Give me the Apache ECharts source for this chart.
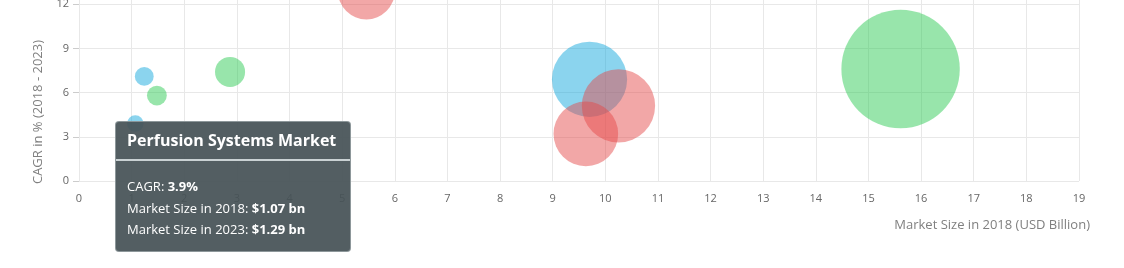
<!DOCTYPE html>
<html>
<head>
<meta charset="utf-8">
<script src="https://cdn.jsdelivr.net/npm/echarts@6/dist/echarts.min.js"></script>
<style>
html,body{margin:0;padding:0;background:#fff;}
#chart{width:1124px;height:268px;}
</style>
</head>
<body>
<div id="chart"></div>
<script>
// Data
const marketNames = ['Market A', 'Market B', 'Perfusion Systems Market', 'Market D', 'Market E', 'Market F', 'Market G', 'Market H', 'Market I'];
const marketSize2018 = [1.24, 1.48, 1.07, 2.87, 5.46, 9.70, 10.25, 9.63, 15.61];
const cagrPercent = [7.1, 5.8, 3.9, 7.4, 12.9, 6.9, 5.1, 3.2, 7.6];
const marketSize2023 = [1.75, 1.96, 1.29, 4.10, 9.7, 13.5, 13.1, 11.3, 22.5];
const colorGroup = ['blue', 'green', 'blue', 'green', 'red', 'blue', 'red', 'red', 'green'];
const xTicks = [0, 1, 2, 3, 4, 5, 6, 7, 8, 9, 10, 11, 12, 13, 14, 15, 16, 17, 18, 19];
const yTicks = [0, 3, 6, 9, 12, 15];
const highlighted = 2;

const palette = {
  blue: 'rgba(20,168,220,0.62)',
  green: 'rgba(40,200,80,0.6)',
  red: 'rgba(228,72,72,0.6)'
};

const points = marketNames.map((n, i) => ({
  name: n,
  value: [marketSize2018[i], cagrPercent[i], marketSize2023[i]],
  itemStyle: { color: palette[colorGroup[i]] }
}));

const chart = echarts.init(document.getElementById('chart'));
const labelColor = '#666';
chart.setOption({
  animation: false,
  textStyle: { fontFamily: '"Open Sans", sans-serif' },
  grid: { left: 79, right: 45, top: -40, bottom: 87, containLabel: false, outerBoundsMode: 'none' },
  xAxis: {
    type: 'value', min: xTicks[0], max: xTicks[xTicks.length - 1], interval: 1,
    axisLine: { show: false }, axisTick: { show: false },
    axisLabel: { color: labelColor, fontSize: 11, margin: 12, fontFamily: '"Open Sans", sans-serif' },
    splitLine: { show: true, lineStyle: { color: '#e8e8e8', width: 1 } },
    name: 'Market Size in 2018 (USD Billion)', nameLocation: 'end', nameGap: 11,
    nameTextStyle: { color: '#808080', fontSize: 13, align: 'right', verticalAlign: 'top', padding: [38, 0, 0, 0], fontFamily: '"Open Sans", sans-serif' }
  },
  yAxis: {
    type: 'value', min: yTicks[0], max: yTicks[yTicks.length - 1], interval: 3,
    axisLine: { show: false },
    axisTick: { show: true, length: 6, lineStyle: { color: '#ccc' } },
    axisLabel: { color: labelColor, fontSize: 11, margin: 10, fontFamily: '"Open Sans", sans-serif' },
    splitLine: { show: true, lineStyle: { color: '#e8e8e8', width: 1 } }
  },
  graphic: [{
    type: 'text', x: 38, y: 112, rotation: Math.PI / 2,
    style: { text: 'CAGR in % (2018 - 2023)', fill: '#808080', fontSize: 13, fontFamily: '"Open Sans", sans-serif', align: 'center', verticalAlign: 'middle' }
  }],
  tooltip: {
    trigger: 'item', alwaysShowContent: true, showDelay: 0, transitionDuration: 0,
    backgroundColor: 'rgba(70,82,86,0.93)', borderColor: 'rgba(180,190,192,0.6)', borderWidth: 1,
    padding: 0, extraCssText: 'border-radius:4px;box-shadow:none;',
    position: function () { return [115, 121]; },
    formatter: function (p) {
      const v = p.value;
      return '<div style="width:234px;font-family:\'Open Sans\',sans-serif;color:#fff;">' +
        '<div style="font-weight:bold;font-size:16px;padding:8px 12px 9px 11px;border-bottom:2px solid #c9d1d3;line-height:20px;">' + p.name + '</div>' +
        '<div style="font-size:13px;line-height:21.5px;padding:15px 12px 10px 11px;">' +
        'CAGR: <b>' + v[1].toFixed(1) + '%</b><br>' +
        'Market Size in 2018: <b>$' + v[0].toFixed(2) + ' bn</b><br>' +
        'Market Size in 2023: <b>$' + v[2].toFixed(2) + ' bn</b></div></div>';
    }
  },
  series: [{
    type: 'scatter',
    data: points,
    symbolSize: function (v) { return 2 * (2.4 * v[2] + 5.2); },
    emphasis: { disabled: true }
  }]
});
chart.dispatchAction({ type: 'showTip', seriesIndex: 0, dataIndex: highlighted });
</script>
</body>
</html>
